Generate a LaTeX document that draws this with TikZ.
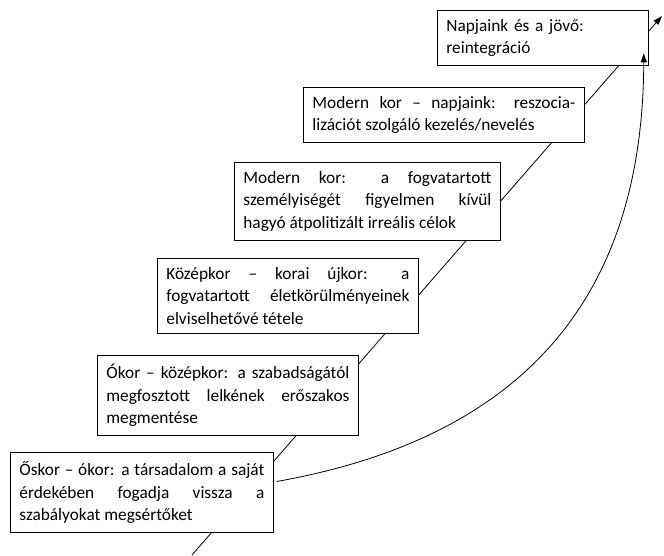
\documentclass[tikz,border=0pt]{standalone}
\usepackage{fontspec}
\setmainfont{Carlito}
\usetikzlibrary{arrows.meta}
\tolerance=10000
\hyphenpenalty=10000
\tikzset{
  stage/.style={draw, fill=white, line width=0.8pt, anchor=north west, align=justify,
    inner xsep=9pt, inner ysep=9pt, font=\fontsize{17.3}{22.5}\selectfont},
  flow/.style={line width=0.8pt, -{Triangle[length=9pt,width=6pt]}}
}
\begin{document}
\begin{tikzpicture}[x=1pt, y=-1pt]
        \useasboundingbox (0,0) rectangle (664,555);

        \coordinate (base) at (192,555);
        \coordinate (top) at (662,16);
        \draw[flow] (base) -- (top);

        \node[stage, text width=245pt] (oskor) at (10,452) {Őskor – ókor: a társadalom a saját\linebreak érdekében fogadja vissza a\linebreak szabályokat megsértőket};
        \node[stage, text width=243pt] (okor) at (97,355) {Ókor – középkor: a szabadságától\linebreak megfosztott lelkének erőszakos\linebreak megmentése};
        \node[stage, text width=243pt] (kozepkor) at (157,258) {Középkor – korai újkor: a\linebreak fogvatartott életkörülményeinek\linebreak elviselhetővé tétele};
        \node[stage, text width=248pt] (modern) at (234,162) {Modern kor: a fogvatartott\linebreak személyiségét figyelmen kívül\linebreak hagyó átpolitizált irreális célok};
        \node[stage, text width=263pt] (napjaink) at (303,87) {Modern kor – napjaink: reszocia-\linebreak lizációt szolgáló kezelés/nevelés};
        \node[stage, text width=193pt, align=left] (jovo) at (437,10) {Napjaink és a jövő:\\reintegráció};

        % visszatérés
        \draw[flow] ([xshift=3pt, yshift=11pt]oskor.east) .. controls (555,432) and (643,265) .. ([xshift=-5pt, yshift=13pt]jovo.south east);
      \end{tikzpicture}
\end{document}
